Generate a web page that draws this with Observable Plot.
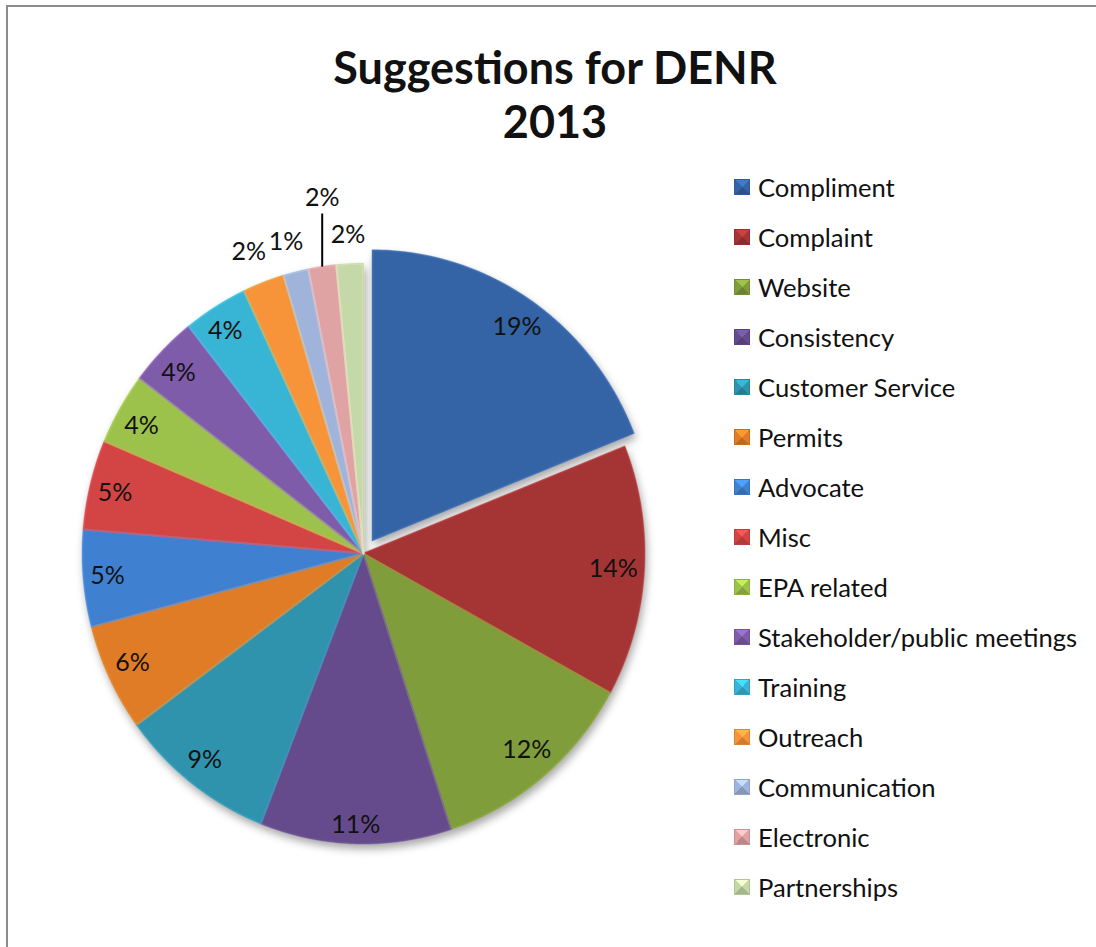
<!DOCTYPE html>
<html><head><meta charset="utf-8">
<script src="https://cdn.jsdelivr.net/npm/d3@7"></script>
<script src="https://cdn.jsdelivr.net/npm/@observablehq/plot@0.6"></script>
<style>
body{margin:0;background:#fff;}
#wrap{position:relative;width:1096px;height:947px;overflow:hidden;font-family:Lato,"Open Sans",sans-serif;color:#111;}
#frame{position:absolute;left:6px;top:5px;width:1200px;height:1100px;border-left:2px solid #8c8c8c;border-top:2px solid #8c8c8c;}
#chart{position:absolute;left:0;top:0;}
#title{position:absolute;left:0;width:1110px;top:40px;text-align:center;font-weight:bold;font-size:45px;line-height:54px;}
#legend{position:absolute;left:734px;top:162px;}
.row{display:flex;align-items:center;height:50px;font-size:25.6px;white-space:nowrap;}
.sw{width:16px;height:16px;margin-right:8px;box-sizing:border-box;}
</style></head>
<body>
<div id="wrap">
  <div id="frame"></div>
  <div id="chart"></div>
  <div id="title">Suggestions for DENR<br>2013</div>
  <div id="legend"></div>
</div>
<script>
// ---- data (share of suggestions, %) ----
const categories = ["Compliment","Complaint","Website","Consistency","Customer Service","Permits","Advocate","Misc","EPA related","Stakeholder/public meetings","Training","Outreach","Communication","Electronic","Partnerships"];
const percents   = [19,14,12,11,9,6,5.4,5,4,4,3.7,2.4,1.45,1.6,1.55];
const explodedCategories = ["Compliment"];
const leaderLabels = ["Electronic"];
// ---- styles ----
const palette = ["#3464a6","#a53434","#809d3c","#654b8c","#2f93ae","#e07c26","#4080d0","#d34545","#9cc24b","#7f5ca9","#38b5d5","#f7943a","#a0b4db","#dfa3a3","#c5d9a8"];

// layout of the pie (pixels)
const cx = 363, cy = 553, rx = 281, ry = 290, explodePx = 16;

const total = d3.sum(percents);
const pie = d3.pie().sort(null).value(d => d.value)(categories.map((c,i)=>({name:c, value:percents[i], color:palette[i]})));

const pts = [];
const labels = [];
const leaders = [];
pie.forEach(p => {
  const d = p.data;
  const mid = (p.startAngle + p.endAngle)/2;
  const ex = explodedCategories.includes(d.name) ? explodePx : 0;
  const ox = Math.sin(mid)*ex/rx, oy = Math.cos(mid)*ex/ry;
  const n = Math.max(4, Math.ceil((p.endAngle - p.startAngle)/0.01));
  pts.push({name:d.name, color:d.color, x:ox, y:oy});
  for (let k=0;k<=n;k++){
    const a = p.startAngle + (p.endAngle-p.startAngle)*k/n;
    pts.push({name:d.name, color:d.color, x:ox+Math.sin(a), y:oy+Math.cos(a)});
  }
  pts.push({name:d.name, color:d.color, x:ox, y:oy});
  // label placement
  const pct = Math.round(d.value/total*100);
  const txt = pct + "%";
  const hw = txt.length > 2 ? 25 : 18, hh = 13;
  const s = Math.sin(mid), c = Math.cos(mid);
  const R = Math.hypot(s*rx, c*ry);
  const extent = Math.abs(s)*hw + Math.abs(c)*hh;
  if (leaderLabels.includes(d.name)) {
    labels.push({text:txt, x:s, y:(cy - 197)/ry});
    leaders.push({x1:s, y1:c, x2:s, y2:(cy-213)/ry});
  } else if (pct < 3) {
    const dist = R + 15 + extent;
    labels.push({text:txt, x:s*dist/rx, y:c*dist/ry});
  } else {
    const dist = R - 5 - extent;
    labels.push({text:txt, x:ox + s*dist/rx, y:oy + c*dist/ry});
  }
});

const shade = (col, k) => d3.color(col).darker(k).formatHex();
const light = (col, k) => d3.color(col).brighter(k).formatHex();

const chart = Plot.plot({
  width: 1096, height: 947,
  margin: 0,
  x: {domain:[-1,1], range:[cx-rx, cx+rx], axis:null},
  y: {domain:[-1,1], range:[cy+ry, cy-ry], axis:null},
  color: {type:"identity"},
  style: {background:"transparent", overflow:"visible"},
  marks: [
    Plot.line(pts, {x:"x", y:"y", z:"name", fill:"color", stroke: d => shade(d.color, 0.7), strokeWidth:1, strokeOpacity:0.7, curve:"linear"}),
    Plot.line(pts, {x:"x", y:"y", z:"name", fill:"none", stroke: d => light(d.color, 0.6), strokeWidth:2, strokeOpacity:0.45, curve:"linear"}),
    Plot.link(leaders, {x1:"x1", y1:"y1", x2:"x2", y2:"y2", stroke:"#000", strokeWidth:2}),
    Plot.text(labels, {x:"x", y:"y", text:"text", fontSize:25, fill:"#111", fontFamily:"Lato, 'Open Sans', sans-serif"})
  ]
});
d3.select(chart).select('g[aria-label="line"]').style("filter","drop-shadow(2px 5px 4px rgba(0,0,0,0.35))");
document.getElementById("chart").appendChild(chart);

// legend
const lg = d3.select("#legend");
categories.forEach((c,i) => {
  const col = palette[i];
  const row = lg.append("div").attr("class","row");
  row.append("div").attr("class","sw")
    .style("background", `conic-gradient(from -45deg, ${light(col,0.6)} 0deg 90deg, ${col} 90deg 180deg, ${shade(col,0.5)} 180deg 270deg, ${col} 270deg 360deg)`)
    .style("border", `1px solid ${shade(col,0.3)}`);
  row.append("span").text(c);
});
</script>
</body></html>
